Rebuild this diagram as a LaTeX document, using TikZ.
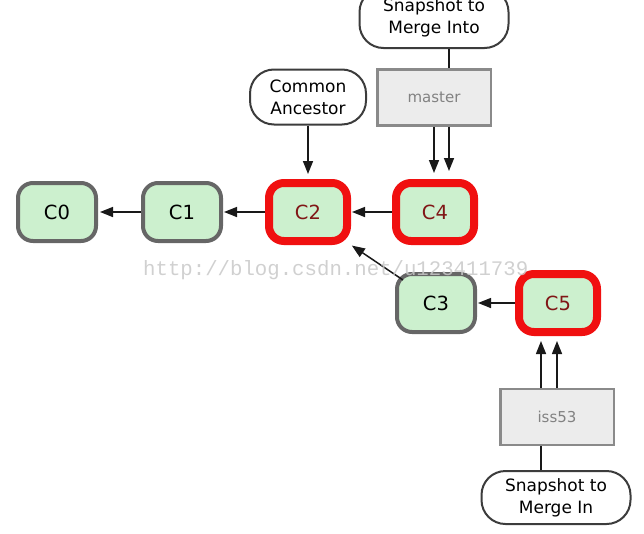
\documentclass[tikz,border=0pt]{standalone}
\usepackage{fontspec}
\setmainfont{DejaVu Sans}
\newfontfamily\wmfont{Liberation Mono}
\usetikzlibrary{arrows.meta,calc}
\definecolor{cfill}{RGB}{204,240,206}
\definecolor{cgray}{RGB}{102,102,102}
\definecolor{cred}{RGB}{240,16,16}
\definecolor{ctext}{RGB}{128,22,22}
\definecolor{boxfill}{RGB}{236,236,236}
\definecolor{boxline}{RGB}{138,138,138}
\definecolor{boxtext}{RGB}{130,130,130}
\definecolor{ovline}{RGB}{60,60,60}
\definecolor{arrline}{RGB}{25,25,25}
\definecolor{wm}{RGB}{200,200,200}
\begin{document}
\begin{tikzpicture}[x=1pt,y=-1pt,
  commit/.style={draw=cgray, line width=4pt, fill=cfill, rounded corners=15pt,
    minimum width=78pt, minimum height=58pt, inner sep=0pt,
    font=\fontsize{19.5}{20}\selectfont},
  hot/.style={commit, draw=cred, line width=8pt, text=ctext},
  oval/.style={draw=ovline, line width=2pt, rounded corners=24pt, fill=white,
    align=center, inner sep=0pt, font=\fontsize{17}{22}\selectfont},
  branch/.style={draw=boxline, line width=2.5pt, fill=boxfill, text=boxtext,
    minimum width=113.5pt, minimum height=56pt, inner sep=0pt,
    font=\fontsize{15}{16}\selectfont},
  arr/.style={draw=arrline, line width=1.5pt, -{Triangle[length=13pt,width=10pt]}},
  plain/.style={draw=arrline, line width=1.5pt}
]
\useasboundingbox (0,0) rectangle (644,533);

\node[commit] (c0) at (57,212) {C0};
\node[commit] (c1) at (182,212) {C1};
\node[hot]    (c2) at (308,212) {C2};
\node[hot]    (c4) at (435,212) {C4};
\node[commit] (c3) at (436,303) {C3};
\node[hot]    (c5) at (558,303) {C5};

\node[oval, minimum width=116pt, minimum height=55pt] (ca) at (308,97) {Common\\Ancestor};
\node[branch] (master) at (434,97.5) {master};
\node[oval, minimum width=149pt, minimum height=60pt] (into) at (434,18) {Snapshot to\\Merge Into};
\node[branch] (iss) at (557,417) {iss53};
\node[oval, minimum width=149pt, minimum height=53pt] (in) at (556,497.5) {Snapshot to\\Merge In};

\draw[arr, shorten >=2pt] (c1.west) -- (c0.east);
\draw[arr, shorten >=1pt] (c2.west) -- (c1.east);
\draw[arr, shorten >=1pt] (c4.west) -- (c2.east);
\draw[arr, shorten >=1pt] (c5.west) -- (c3.east);
\draw[arr, shorten >=1pt] ($(c3.north west)+(8,8)$) -- (c2.south east);
\draw[arr, shorten >=5pt] (ca.south) -- (c2.north);
\draw[arr, shorten >=6pt] (master.south) -- (master.south |- c4.north);
\draw[arr, shorten >=8pt] ([xshift=15pt]master.south) -- ([xshift=15pt]master.south |- c4.north);
\draw[plain] ([xshift=15pt]into.south) -- ([xshift=15pt]master.north);
\draw[arr, shorten >=5pt] ([xshift=-16pt]iss.north) -- ([xshift=-16pt]iss.north |- c5.south);
\draw[arr, shorten >=5pt] (iss.north) -- (iss.north |- c5.south);
\draw[plain] ([xshift=-16pt]iss.south) -- ([xshift=-16pt]iss.south |- in.north);

\node[anchor=base west, inner sep=0pt, text=wm, opacity=0.85,
  font=\wmfont\fontsize{20.7}{21}\selectfont] (wmark) at (143,275) {http://blog.csdn.net/u123411739};
\end{tikzpicture}
\end{document}
